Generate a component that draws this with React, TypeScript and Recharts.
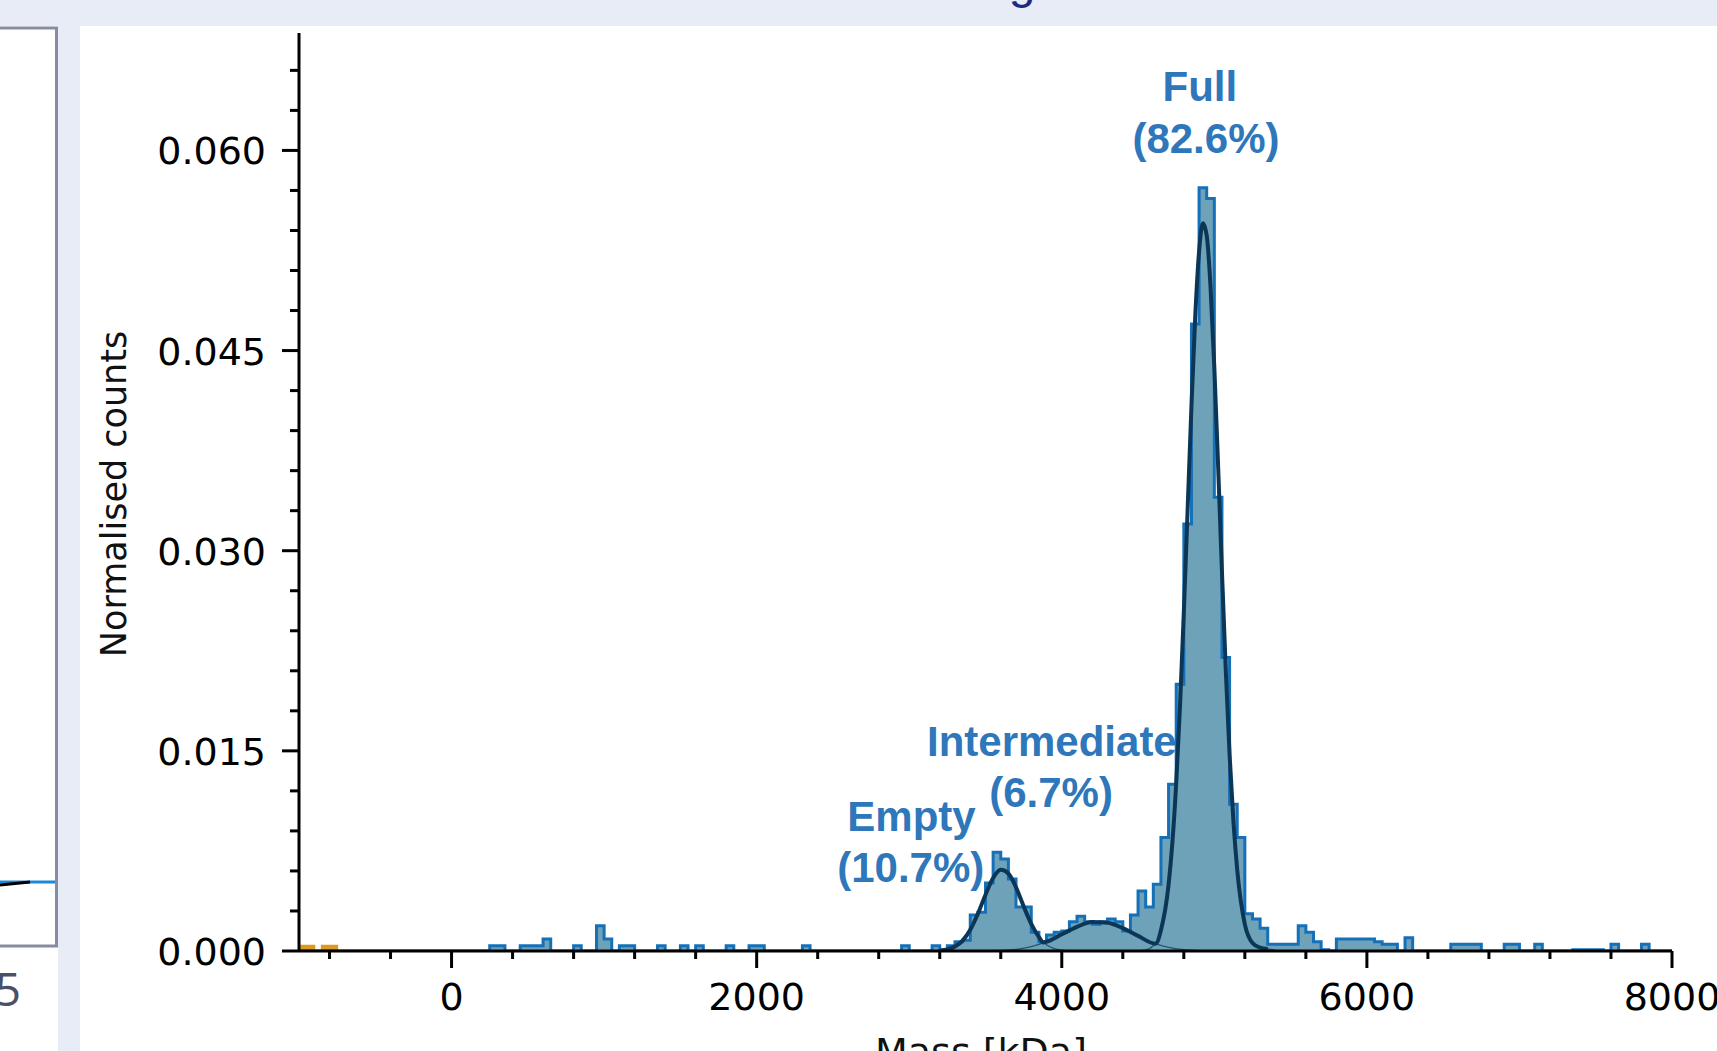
import React from 'react';
import { ComposedChart, Area, Line, XAxis, YAxis, ReferenceDot } from 'recharts';

// histogram: normalised counts per 50 kDa bin, bins start at -1000 kDa
const binStart = -1000;
const binWidth = 50;
const histCounts = [
  // -1000 .. -50
  0, 0, 0, 0, 0, 0, 0, 0, 0, 0, 0, 0, 0, 0, 0, 0, 0, 0, 0, 0,
  // 0 .. 950
  0, 0, 0, 0, 0, 0.0004, 0.0004, 0, 0, 0.0004, 0.0004, 0.0004, 0.0009, 0, 0, 0, 0.0004, 0, 0, 0.0019,
  // 1000 .. 1950
  0.0009, 0, 0.0004, 0.0004, 0, 0, 0, 0.0004, 0, 0, 0.0004, 0, 0.0004, 0, 0, 0, 0.0004, 0, 0, 0.0004,
  // 2000 .. 2950
  0.0004, 0, 0, 0, 0, 0, 0.0004, 0, 0, 0, 0, 0, 0, 0, 0, 0, 0, 0, 0, 0.0004,
  // 3000 .. 3950
  0, 0, 0, 0.0004, 0, 0.0004, 0.0007, 0.0008, 0.0027, 0.0029, 0.0051, 0.0074, 0.0069, 0.0054, 0.0033, 0.0033, 0.0014, 0.0007, 0.0012, 0.0014,
  // 4000 .. 4950
  0.0015, 0.0022, 0.0026, 0.0022, 0.002, 0.0022, 0.0024, 0.0022, 0.0015, 0.0027, 0.0045, 0.0033, 0.005, 0.0085, 0.0125, 0.02, 0.032, 0.047, 0.0572, 0.0564,
  // 5000 .. 5950
  0.034, 0.022, 0.011, 0.0085, 0.0028, 0.0024, 0.0017, 0.0005, 0.0005, 0.0005, 0.0005, 0.0019, 0.0014, 0.0007, 0.0001, 0, 0.0009, 0.0009, 0.0009, 0.0009,
  // 6000 .. 6950
  0.0009, 0.0007, 0.0005, 0.0005, 0, 0.001, 0, 0, 0, 0, 0, 0.0005, 0.0005, 0.0005, 0.0005, 0, 0, 0, 0.0005, 0.0005,
  // 7000 .. 7950
  0, 0, 0.0005, 0, 0, 0, 0, 0.0001, 0.0001, 0.0001, 0.0001, 0, 0.0005, 0, 0, 0, 0.0005, 0, 0, 0,
];

// second (orange) histogram, only visible below 0 kDa
const orangeBins = [-1000, -950, -900, -850, -800, -750];
const orangeCounts = [0.0004, 0.0004, 0, 0.0004, 0.0004, 0];

// gaussian fits
const emptyMass = [3100, 3150, 3200, 3250, 3300, 3350, 3400, 3450, 3500, 3550, 3600, 3650, 3700, 3750, 3800, 3850, 3900, 3950, 4000, 4050, 4100];
const emptyFit = [0, 0.00001, 0.00004, 0.00012, 0.00033, 0.00078, 0.00159, 0.00279, 0.00422, 0.00547, 0.00608, 0.00581, 0.00477, 0.00335, 0.00203, 0.00105, 0.00047, 0.00018, 0.00006, 0.00002, 0];

const interMass = [3500, 3600, 3700, 3800, 3900, 4000, 4100, 4200, 4300, 4400, 4500, 4600, 4700, 4800, 4900, 5000];
const interFit = [0.00001, 0.00004, 0.00012, 0.00033, 0.0007, 0.00125, 0.00181, 0.00217, 0.00212, 0.00171, 0.00113, 0.00061, 0.00027, 0.0001, 0.00003, 0.00001];

const fullMass = [4500, 4550, 4600, 4650, 4700, 4725, 4750, 4775, 4800, 4825, 4850, 4875, 4900, 4925, 4950, 4975, 5000, 5025, 5050, 5075, 5100, 5125, 5150, 5200, 5250, 5300, 5350, 5400];
const fullFit = [0.00001, 0.00008, 0.00039, 0.00156, 0.00496, 0.00812, 0.01256, 0.01836, 0.02538, 0.03312, 0.04084, 0.0476, 0.05242, 0.05454, 0.05362, 0.04981, 0.04372, 0.03626, 0.02842, 0.02104, 0.01472, 0.00974, 0.00608, 0.002, 0.0006, 0.00025, 0.00015, 0.00008];

// thick outline of the dominant fit
const envMass = [3200, 3250, 3300, 3350, 3400, 3450, 3500, 3550, 3600, 3650, 3700, 3750, 3800, 3850, 3880, 3900, 4000, 4100, 4200, 4300, 4400, 4500, 4615, 4650, 4700, 4725, 4750, 4775, 4800, 4825, 4850, 4875, 4900, 4925, 4950, 4975, 5000, 5025, 5050, 5075, 5100, 5125, 5150, 5200, 5250, 5300, 5350];
const envFit = [0.00004, 0.00012, 0.00033, 0.00078, 0.00159, 0.00279, 0.00422, 0.00547, 0.00608, 0.00581, 0.00477, 0.00335, 0.00203, 0.00105, 0.00064, 0.0007, 0.00125, 0.00181, 0.00217, 0.00212, 0.00171, 0.00113, 0.00055, 0.00156, 0.00496, 0.00812, 0.01256, 0.01836, 0.02538, 0.03312, 0.04084, 0.0476, 0.05242, 0.05454, 0.05362, 0.04981, 0.04372, 0.03626, 0.02842, 0.02104, 0.01472, 0.00974, 0.00608, 0.002, 0.0006, 0.00025, 0.00015];

const xTicks = [-800, -400, 0, 400, 800, 1200, 1600, 2000, 2400, 2800, 3200, 3600, 4000, 4400, 4800, 5200, 5600, 6000, 6400, 6800, 7200, 7600, 8000];
const xMajor = [0, 2000, 4000, 6000, 8000];
const yTicks = [0, 0.003, 0.006, 0.009, 0.012, 0.015, 0.018, 0.021, 0.024, 0.027, 0.03, 0.033, 0.036, 0.039, 0.042, 0.045, 0.048, 0.051, 0.054, 0.057, 0.06, 0.063, 0.066];
const yMajor = [0, 0.015, 0.03, 0.045, 0.06];

// peak annotations: [label, mass, count at text baseline]
const annotations: [string, number, number][] = [
  ['Full', 4905, 0.0637],
  ['(82.6%)', 4945, 0.0598],
  ['Intermediate', 3935, 0.0146],
  ['(6.7%)', 3930, 0.0108],
  ['Empty', 3015, 0.009],
  ['(10.7%)', 3010, 0.0052],
];

const histData = histCounts.map((v, i) => ({ mass: binStart + i * binWidth, v })).concat([{ mass: 8000, v: 0 }]);
const orangeData = orangeBins.map((m, i) => ({ mass: m, v: orangeCounts[i] }));
const toRows = (ms: number[], vs: number[]) => ms.map((m, i) => ({ mass: m, v: vs[i] }));

const tickFont = 'DejaVu Sans, Verdana, sans-serif';

const XTick = (props: any) => {
  const { x, y, payload } = props;
  const major = xMajor.includes(payload.value);
  return (
    <g>
      <line x1={x} x2={x} y1={y} y2={y + (major ? 17 : 8)} stroke="#000" strokeWidth={3} />
      {major && (
        <text x={x} y={y + 59} textAnchor="middle" fontSize={38} fontFamily={tickFont} fill="#000">
          {payload.value}
        </text>
      )}
    </g>
  );
};

const YTick = (props: any) => {
  const { x, y, payload } = props;
  const major = yMajor.includes(payload.value);
  return (
    <g>
      <line x1={x - (major ? 17 : 9)} x2={x} y1={y} y2={y} stroke="#000" strokeWidth={3} />
      {major && (
        <text x={x - 33} y={y + 14} textAnchor="end" fontSize={38} fontFamily={tickFont} fill="#000">
          {payload.value.toFixed(3)}
        </text>
      )}
    </g>
  );
};

const annoLabel = (text: string) => (props: any) => {
  const { x, y } = props.viewBox;
  return (
    <text x={x} y={y} textAnchor="middle" fontSize={42} fontWeight="bold" fontFamily="Liberation Sans, Arial, sans-serif" fill="#2e77bb">
      {text}
    </text>
  );
};

export default function App() {
  return (
    <div style={{ position: 'absolute', left: 0, top: 0, width: 1717, height: 1051, overflow: 'hidden', background: '#fff' }}>
      <svg width={1717} height={1051} style={{ position: 'absolute', left: 0, top: 0 }}>
        <rect x={0} y={0} width={1717} height={26} fill="#e8ecf7" />
        <rect x={58} y={26} width={22} height={1025} fill="#e8ecf7" />
        <text x={1022} y={-2} textAnchor="middle" fontSize={48} fontFamily="Liberation Sans, Arial, sans-serif" fill="#1c2a80">g</text>
        <rect x={-10} y={28} width={66.5} height={918} fill="#fff" stroke="#878ca3" strokeWidth={3} />
        <line x1={0} x2={55} y1={882} y2={882} stroke="#1a8ad6" strokeWidth={3} />
        <line x1={0} x2={30} y1={885} y2={882} stroke="#000" strokeWidth={3} />
        <text x={21} y={1006} textAnchor="end" fontSize={46} fontFamily="Open Sans, sans-serif" fill="#4a5068">5</text>
        <text transform="translate(126,494) rotate(-90)" textAnchor="middle" fontSize={35} fontFamily={tickFont} fill="#111">Normalised counts</text>
        <text x={981} y={1065} textAnchor="middle" fontSize={38} fontFamily={tickFont} fill="#111">Mass [kDa]</text>
      </svg>
      <div style={{ position: 'absolute', left: 0, top: 0 }}>
        <ComposedChart width={1717} height={1051} margin={{ top: 33, right: 45, bottom: 0, left: 0 }}>
          <XAxis
            type="number"
            dataKey="mass"
            domain={[-1000, 8000]}
            allowDataOverflow
            ticks={xTicks}
            interval={0}
            tickLine={false}
            tickSize={0}
            tickMargin={0}
            tick={(p: any) => <XTick {...p} />}
            axisLine={{ stroke: '#000', strokeWidth: 3 }}
            height={100}
          />
          <YAxis
            type="number"
            domain={[0, 0.0688]}
            allowDataOverflow
            ticks={yTicks}
            interval={0}
            tickLine={false}
            tickSize={0}
            tickMargin={0}
            tick={(p: any) => <YTick {...p} />}
            axisLine={{ stroke: '#000', strokeWidth: 3 }}
            width={299}
          />
          <Area data={orangeData} dataKey="v" type="stepAfter" fill="#dc9a1e" fillOpacity={1} stroke="#dc9a1e" strokeWidth={2} isAnimationActive={false} />
          <Area data={histData} dataKey="v" type="stepAfter" fill="#6ea2b9" fillOpacity={1} stroke="#1570b8" strokeWidth={3} isAnimationActive={false} />
          <Line data={toRows(emptyMass, emptyFit)} dataKey="v" type="monotone" stroke="#1f4560" strokeWidth={1.3} strokeOpacity={0.85} dot={false} isAnimationActive={false} />
          <Line data={toRows(interMass, interFit)} dataKey="v" type="monotone" stroke="#1f4560" strokeWidth={1.3} strokeOpacity={0.85} dot={false} isAnimationActive={false} />
          <Line data={toRows(fullMass, fullFit)} dataKey="v" type="monotone" stroke="#1f4560" strokeWidth={1.3} strokeOpacity={0.85} dot={false} isAnimationActive={false} />
          <Line data={toRows(envMass, envFit)} dataKey="v" type="monotone" stroke="#0b3656" strokeWidth={4} dot={false} isAnimationActive={false} />
          {annotations.map(([t, m, c]) => (
            <ReferenceDot key={t} x={m} y={c} r={0} fill="none" stroke="none" ifOverflow="visible" label={annoLabel(t)} />
          ))}
        </ComposedChart>
      </div>
    </div>
  );
}
